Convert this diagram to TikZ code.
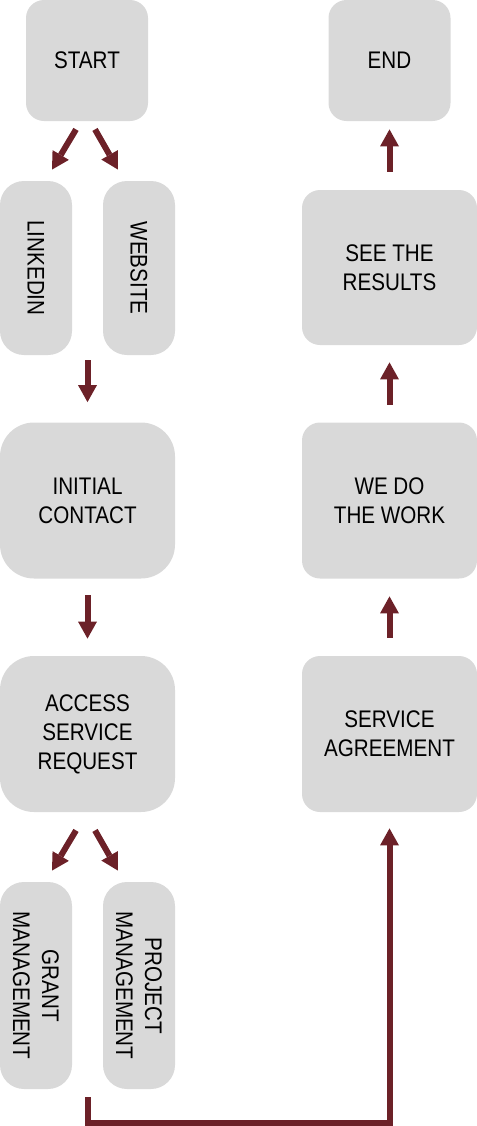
\documentclass[tikz,border=0pt]{standalone}
\usepackage{fontspec}
\setmainfont{Liberation Sans}[FakeStretch=0.86]
\usetikzlibrary{arrows.meta,calc}
\definecolor{boxgray}{RGB}{217,217,217}
\definecolor{flowred}{RGB}{108,33,40}
\begin{document}
\begin{tikzpicture}[x=0.5pt,y=-0.5pt,
        box/.style={fill=boxgray, inner sep=0pt, align=center, font=\fontsize{12}{14.5}\selectfont},
        flow/.style={draw=flowred, line width=3pt, -{Triangle[width=9.5pt,length=8.5pt,line width=0pt]}}]
        \useasboundingbox (0,0) rectangle (477,1126);

        % left column
        \node[box, minimum width=61pt, minimum height=60.5pt, rounded corners=9pt] (start) at (87,60.5) {START};
        \node[box, rotate=-90, minimum width=87pt, minimum height=36pt, rounded corners=12pt] (linkedin) at (36,268) {LINKEDIN};
        \node[box, rotate=-90, minimum width=87pt, minimum height=36pt, rounded corners=12pt] (website) at (139,268) {WEBSITE};
        \node[box, minimum width=87.5pt, minimum height=78pt, rounded corners=17pt] (initial) at (87.5,500.5) {INITIAL\\CONTACT};
        \node[box, minimum width=87.5pt, minimum height=78pt, rounded corners=17pt] (access) at (87.5,734) {ACCESS\\SERVICE\\REQUEST};
        \node[box, rotate=-90, minimum width=103.5pt, minimum height=36pt, rounded corners=12pt] (grant) at (36,985.5) {GRANT\\MANAGEMENT};
        \node[box, rotate=-90, minimum width=103.5pt, minimum height=36pt, rounded corners=12pt] (project) at (139,985.5) {PROJECT\\MANAGEMENT};

        % right column
        \node[box, minimum width=87.5pt, minimum height=78pt, rounded corners=9pt] (agreement) at (389.5,734) {SERVICE\\AGREEMENT};
        \node[box, minimum width=87.5pt, minimum height=78pt, rounded corners=9pt] (work) at (389.5,500.5) {WE DO\\THE WORK};
        \node[box, minimum width=87.5pt, minimum height=77.5pt, rounded corners=9pt] (results) at (389.5,267.5) {SEE THE\\RESULTS};
        \node[box, minimum width=61pt, minimum height=60.5pt, rounded corners=9pt] (end) at (389.5,60.5) {END};

        \draw[flow] ([shift={(-11,8)}]start.south) -- ([shift={(16,-11)}]linkedin.west);
        \draw[flow] ([shift={(8,8)}]start.south) -- ([shift={(-21,-11)}]website.west);
        \draw[flow, shorten <=2.5pt, shorten >=10pt] ($(linkedin.east)!0.5!(website.east)$) -- (initial.north);
        \draw[flow, shorten <=8.25pt, shorten >=8.5pt] (initial) -- (access);
        \draw[flow] ([shift={(-11.5,18)}]access.south) -- ([shift={(16,-11)}]grant.west);
        \draw[flow] ([shift={(7.5,18)}]access.south) -- ([shift={(-21,-11)}]project.west);
        \draw[flow, shorten <=4pt, shorten >=8pt] ($(grant.east)!0.5!(project.east)$) -- ++(0,33.5) -| (agreement.south);

        \draw[flow, shorten <=9pt, shorten >=8.75pt] (agreement) -- (work);
        \draw[flow, shorten <=8.75pt, shorten >=8.5pt] (work) -- (results);
        \draw[flow, shorten <=9pt, shorten >=4pt] (results) -- (end);
\end{tikzpicture}
\end{document}
